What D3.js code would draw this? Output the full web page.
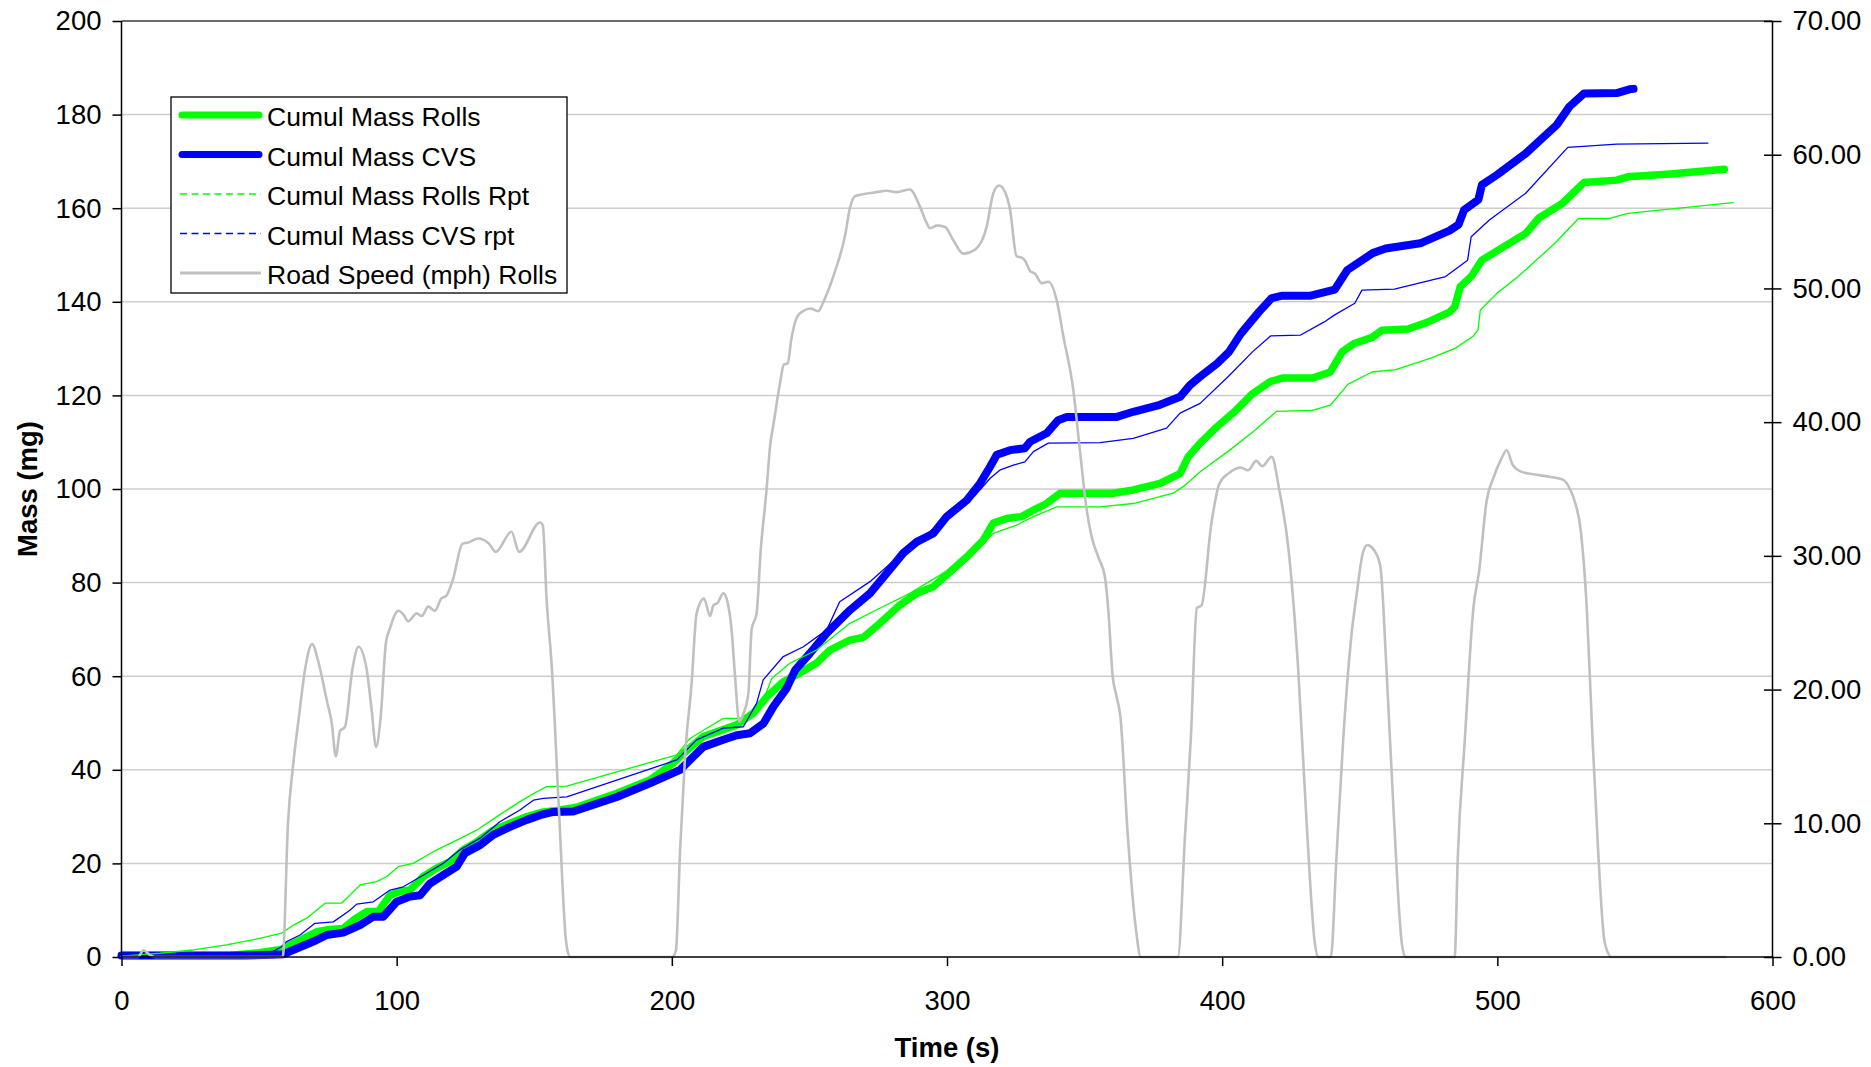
<!DOCTYPE html>
<html>
<head>
<meta charset="utf-8">
<script src="https://cdn.jsdelivr.net/npm/d3@7"></script>
<style>
  html, body { margin: 0; padding: 0; background: #fff; }
  svg { display: block; }
  text { font-family: "Liberation Sans", Arial, sans-serif; fill: #000; }
</style>
</head>
<body>
<svg id="chart" width="1871" height="1067"></svg>
<script>
// Cumulative mass (mg) against time (s), [time, mass]
const massRolls = [
  [0,0.3],[40,0.4],[50,0.9],[58,1.6],[60,2.2],[64.9,3.6],[70.9,5.4],[74.6,5.8],[80.6,6.1],[84.3,7.9],
  [89.1,9.7],[93.3,9.7],[97.6,13.2],[101.2,14],[104.8,14.3],[109.7,17.2],[114.5,19],[119.4,20.4],
  [124.2,22.9],[129.1,24.6],[135.1,27.1],[141.2,28.6],[147.3,30],[153.3,31],[158.2,31.3],[165.4,32],
  [180,35],[192,37.8],[200,41.2],[204.2,43.5],[211.4,47.1],[216.3,48.1],[223.6,49.6],[229.6,52.1],
  [234.5,55.6],[240.5,58.8],[245.4,60.3],[252.6,62.8],[257.5,65.6],[264.7,67.7],[269.6,68.3],
  [275.6,71.3],[282.9,75.2],[289,77.7],[295,79.1],[301.1,82.3],[307.2,85.5],[313.2,89.1],[316.8,92.7],
  [321.7,93.7],[327.1,94.1],[331.4,95.5],[336.2,96.9],[341.1,99.1],[360.4,99.1],[367.7,99.8],
  [377.4,101.2],[384.7,103.3],[387.7,106.9],[392,109.8],[398.1,113.3],[404.6,116.6],[411.1,120.4],
  [417.6,123],[421.9,123.7],[432.8,123.7],[439.3,125],[443.6,129.3],[448,131.1],[454.5,132.4],
  [458,133.9],[467.5,134.2],[474,135.5],[482.6,137.8],[484.5,138.9],[486.5,143.2],[490.5,145.4],
  [494.4,148.9],[502.4,151.8],[510.3,154.6],[515.1,157.9],[523.6,161],[531.5,165.5],[543.4,166],
  [547.4,166.7],[562.8,167.3],[582.5,168.3]
];

const massCVS = [
  [0,0.3],[45,0.3],[55,0.5],[58.8,0.6],[62.4,1.5],[69.7,3.3],[74.6,4.7],[80.6,5.2],[86.7,6.8],
  [91.5,8.6],[95.1,8.6],[100,11.8],[104.8,12.9],[108.5,13.2],[112.1,15.7],[116.9,17.5],[121.8,19.3],
  [124.8,22.2],[130.3,23.9],[135.1,26.1],[141.2,27.8],[147.3,29.3],[152.1,30.3],[156.9,31],[164.2,31.1],
  [180,34.2],[192,37.1],[203,40],[206.6,42.1],[211.4,44.9],[218.7,46.4],[223.6,47.4],[228.4,47.8],
  [233.3,49.9],[236.9,53.5],[241.7,57.4],[244.8,61.3],[250.2,64.9],[256.3,69.2],[264.7,74.1],
  [272,77.7],[278.1,82],[284.1,86.3],[289,88.7],[295,90.5],[299.9,94.1],[307.2,97.6],[312,101.2],
  [315.7,104.8],[318.1,107.3],[322.9,108.3],[328.3,108.7],[330.2,110.1],[336.2,111.9],[340.4,114.7],
  [343.5,115.4],[361.7,115.4],[367.7,116.5],[377.4,118],[384.7,119.7],[388.3,122.2],[392,124],
  [398.1,126.8],[402.5,129.3],[406.8,133.2],[413.3,137.8],[418,140.8],[421.9,141.3],[432.2,141.3],
  [440.9,142.6],[445.5,146.8],[454.7,150.4],[459.4,151.4],[472,152.5],[482.6,155.2],[485.9,156.5],
  [487.9,159.6],[493.1,161.8],[494.4,165],[499.8,167.1],[510.3,171.7],[521.6,177.8],[526.2,181.7],
  [531.5,184.5],[543.4,184.6],[548,185.4],[549.5,185.5]
];

const massRollsRpt = [
  [0,0.2],[14,0.8],[26.1,1.5],[38.2,2.6],[50.3,4],[58.2,5.1],[62.4,6.8],[67.3,8.3],[74,11.5],[80,11.5],
  [86.7,15.4],[92.7,16.1],[96.4,17.2],[100.6,19.3],[106,20],[113.3,22.5],[120.6,24.6],[129.1,27.1],
  [136.4,30],[144.8,33.2],[150.9,35.3],[154.5,36.4],[161.8,36.5],[201.8,43.2],[206.6,46.7],[213,49],
  [218.7,51],[224.8,51],[232.1,53.1],[234,56],[236.3,59.5],[243,62.8],[252.6,65.6],[264.7,71.3],
  [276.8,74.9],[286.5,77.7],[300,82.5],[313.2,88.4],[316.8,90.5],[325.3,92.3],[331.4,94.1],
  [339.9,96.2],[355.6,96.2],[367.7,96.9],[382.2,99.1],[385.8,100.5],[389.4,102.3],[392,103.7],
  [402.5,108.2],[411.1,112.2],[419.8,116.6],[432.8,116.8],[439.3,117.9],[445.8,122.4],[454.5,125],
  [463.1,125.5],[476.1,128],[484.8,130.1],[491.3,132.7],[493,134],[493.8,138.2],[499.8,141.8],
  [507.6,145.4],[520.9,152.5],[529.5,157.8],[540.8,157.8],[547.4,158.9],[585.7,161.2]
];

const massCVSRpt = [
  [0,0.2],[45,0.3],[55,1.2],[58.2,2.2],[60,3.3],[64.9,4.7],[70.3,7.2],[77,7.5],[83,10],[85.5,11.3],
  [91.5,11.8],[97.6,14.3],[102.4,15],[110.9,17.9],[116.9,20],[123,22.9],[130.3,25.4],[137.5,28.9],
  [144.8,31.4],[149.7,33.5],[153.3,33.9],[161.8,34.2],[201.8,42.1],[209,46.4],[218.7,48.9],[226,49.2],
  [230.8,54.2],[233.2,59.2],[240.5,64.2],[247.8,66.3],[256.3,69.9],[261,75.9],[272,80.2],[282.9,85.9],
  [290,89],[300,94],[310,98.5],[315.7,102.3],[319.4,104.1],[324.1,105.1],[328.3,105.8],[331.4,108],
  [336.8,109.8],[355.6,109.9],[367.7,110.8],[379.8,113],[384.7,116.2],[392,118.3],[402.5,124.2],
  [411,129.3],[417.6,132.7],[428.5,132.9],[437.1,135.7],[440.9,137.2],[448.2,139.7],[450.8,142.5],
  [462.6,142.7],[481.2,145.4],[489.2,148.9],[490.5,153.9],[497.1,157.5],[510.3,163.2],[525.6,173],
  [543.4,173.7],[576.5,173.9]
];

// Road speed (mph) against time (s), [time, speed]
const roadSpeed = [
  [0,0],[6,0],[8,0.5],[10,0.2],[12,0],[58.6,0],[60.5,10],[62.4,14.4],[64.5,18],[66.7,21.5],[69.3,23.4],
  [71.5,22.1],[74.6,19.2],[76.4,17.5],[77.9,15],[79.4,16.9],[81.2,17.2],[83.9,21.5],[86.1,23.2],
  [89.1,21.5],[90.9,18.5],[92.5,15.7],[94.2,18],[96.1,23.5],[97.6,24.6],[100.6,25.9],[102.5,25.6],
  [104.2,25.1],[107.3,25.7],[109.1,25.5],[111.5,26.2],[113.9,25.9],[116.2,26.8],[118,27],[120.4,28.2],
  [123.9,30.9],[126,31],[129.7,31.3],[133.6,30.9],[136,30.3],[141.7,31.8],[144.5,30.3],[152.1,32.5],
  [153.1,32.3],[154.5,26.7],[156.4,21.6],[159,10.9],[161.6,1.1],[163,0],[200.2,0],[201.5,0.5],
  [203,8],[204.8,15],[207.2,20.5],[209,25.7],[211.7,26.8],[213.9,25.5],[215.1,26.3],[216.7,26.5],
  [218.7,27.2],[219.9,26.8],[221.7,24.5],[222.9,21.2],[224.5,17.6],[226,18.2],[227.8,19.7],[229,24.5],
  [230.8,25.7],[232.3,30.4],[234.4,34.9],[235.8,38.4],[236.9,39.8],[239.3,42.9],[240.7,44.3],
  [242.1,44.4],[243.5,46.3],[245.6,47.9],[247.7,48.3],[250.4,48.5],[253.2,48.3],[255.3,49.1],
  [259.5,51.4],[262.9,53.9],[264.7,56],[266.6,56.9],[268.4,57],[274.4,57.2],[278.1,57.3],[281.7,57.2],
  [286.5,57.4],[290.2,56.1],[292.6,54.9],[293.8,54.5],[296.5,54.7],[299.3,54.6],[302.3,53.6],
  [305.9,52.6],[310.2,52.9],[314.4,54.6],[316.8,57.1],[318.9,57.7],[321.1,57.2],[322.9,55.9],
  [325.3,52.4],[327.1,52.3],[328.3,52.1],[330.2,51.3],[332,51.1],[334.4,50.4],[336.8,50.5],
  [339.9,49.1],[342.3,46.4],[345.9,42.4],[348.3,37.9],[350.8,33.4],[352.6,31.4],[355,29.9],
  [357.4,28.4],[358.6,26],[360.2,21],[361.6,19.5],[363,18],[365.7,9.1],[368.7,2],[370.4,0],
  [383.9,0],[386.5,9.1],[388.6,16.3],[390.8,26.1],[392.5,26.3],[396,32.3],[399,35.4],[402.5,36.2],
  [406.8,36.6],[409.4,36.4],[412.4,37.1],[414.6,36.7],[418,37.4],[420.7,35],[424.1,30.5],[427.6,21.6],
  [430.7,10],[433.7,1],[435,0],[439.5,0],[441.5,7.3],[444,16.3],[447.1,24.3],[448.8,27],[451,30.1],
  [452.7,30.8],[455.3,30.4],[457.5,29.2],[459.7,21.6],[462.3,10.9],[465.3,1],[466.6,0],[484.5,0],
  [485.6,7.3],[488.2,16.3],[491.3,26.1],[493.4,28.9],[496.1,34.1],[498.7,35.9],[501.3,37.2],
  [503.4,37.9],[505.6,36.8],[508.6,36.3],[513,36.1],[519.4,35.9],[523.8,35.7],[526.4,35],[528.1,34.1],
  [530.3,31.9],[532.5,26.1],[534.6,16.3],[536.8,7.3],[539,1.1],[541.5,0],[583,0]
];

const timeTicks = [0, 100, 200, 300, 400, 500, 600];
const massTicks = [0, 20, 40, 60, 80, 100, 120, 140, 160, 180, 200];
const speedTicks = [0, 10, 20, 30, 40, 50, 60, 70];

const seriesNames = [
  "Cumul Mass Rolls", "Cumul Mass CVS", "Cumul Mass Rolls Rpt", "Cumul Mass CVS rpt", "Road Speed (mph) Rolls"
];

// ---- layout ----
const svg = d3.select("#chart");
const plot = { left: 121.5, right: 1772.5, top: 21, bottom: 957 };
const FONT = 27.5;
const LEGEND_FONT = 26.5;

const x = d3.scaleLinear().domain([0, 600]).range([plot.left, plot.right]);
const yMass = d3.scaleLinear().domain([0, 200]).range([plot.bottom, plot.top]);
const ySpeed = d3.scaleLinear().domain([0, 70]).range([plot.bottom, plot.top]);

// horizontal gridlines at the mass ticks
svg.append("g")
  .selectAll("line")
  .data(massTicks.filter(d => d > 0 && d < 200))
  .join("line")
  .attr("x1", plot.left).attr("x2", plot.right)
  .attr("y1", d => yMass(d)).attr("y2", d => yMass(d))
  .attr("stroke", "#cdcdcd").attr("stroke-width", 1.5);

// top border
svg.append("line")
  .attr("x1", plot.left).attr("x2", plot.right)
  .attr("y1", plot.top).attr("y2", plot.top)
  .attr("stroke", "#3a3a3a").attr("stroke-width", 1.5);

// ---- series ----
const massLine = d3.line().x(d => x(d[0])).y(d => yMass(d[1]));
const speedLine = d3.line().x(d => x(d[0])).y(d => ySpeed(d[1])).curve(d3.curveMonotoneX);

const styles = [
  { data: massRolls,    color: "#00ff00", width: 7.5 },
  { data: massCVS,      color: "#0000ff", width: 8 },
  { data: massRollsRpt, color: "#00ff00", width: 1.3 },
  { data: massCVSRpt,   color: "#0000ff", width: 1.3 }
];

const gSeries = svg.append("g").attr("fill", "none")
  .attr("stroke-linejoin", "round").attr("stroke-linecap", "round");

styles.forEach(s => {
  gSeries.append("path")
    .datum(s.data)
    .attr("d", massLine)
    .attr("stroke", s.color)
    .attr("stroke-width", s.width);
});

gSeries.append("path")
  .datum(roadSpeed)
  .attr("d", speedLine)
  .attr("stroke", "#c0c0c0")
  .attr("stroke-width", 2.6);

// ---- axes ----
const axisLeft = d3.axisLeft(yMass).tickValues(massTicks).tickSize(9).tickPadding(11).tickFormat(d3.format("d"));
const gLeft = svg.append("g").attr("transform", `translate(${plot.left},0)`).call(axisLeft);

const axisRight = d3.axisRight(ySpeed).tickValues(speedTicks).tickSize(9).tickPadding(11).tickFormat(d3.format(".2f"));
const gRight = svg.append("g").attr("transform", `translate(${plot.right},0)`).call(axisRight);
// right ticks cross the axis line
gRight.selectAll(".tick line").attr("x1", -8.5);

const axisBottom = d3.axisBottom(x).tickValues(timeTicks).tickSize(9).tickPadding(24).tickFormat(d3.format("d"));
const gBottom = svg.append("g").attr("transform", `translate(0,${plot.bottom})`).call(axisBottom);

[gLeft, gRight, gBottom].forEach(g => {
  g.select(".domain").attr("stroke", "#000").attr("stroke-width", 1.5);
  g.selectAll(".tick line").attr("stroke", "#000").attr("stroke-width", 1.5);
  g.selectAll(".tick text")
    .attr("font-family", "Liberation Sans, Arial, sans-serif")
    .attr("font-size", FONT)
    .attr("fill", "#000");
});
gLeft.select(".domain").attr("d", `M0,${plot.bottom}V${plot.top}`);
gRight.select(".domain").attr("d", `M0,${plot.bottom}V${plot.top}`);
gBottom.select(".domain").attr("d", `M${plot.left},0H${plot.right}`);

// ---- axis titles ----
svg.append("text")
  .attr("x", (plot.left + plot.right) / 2)
  .attr("y", 1057)
  .attr("text-anchor", "middle")
  .attr("font-size", FONT)
  .attr("font-weight", "bold")
  .text("Time (s)");

svg.append("text")
  .attr("transform", `translate(36.5,${(plot.top + plot.bottom) / 2}) rotate(-90)`)
  .attr("text-anchor", "middle")
  .attr("font-size", FONT)
  .attr("font-weight", "bold")
  .text("Mass (mg)");

// ---- legend ----
const legend = svg.append("g");
legend.append("rect")
  .attr("x", 171).attr("y", 97)
  .attr("width", 396).attr("height", 196)
  .attr("fill", "#fff").attr("stroke", "#000").attr("stroke-width", 1.3);

const legendItems = [
  { name: seriesNames[0], color: "#00ff00", width: 7,   dash: null, cap: "round" },
  { name: seriesNames[1], color: "#0000ff", width: 7,   dash: null, cap: "round" },
  { name: seriesNames[2], color: "#00ff00", width: 1.3, dash: "7,4.5", cap: "butt" },
  { name: seriesNames[3], color: "#0000ff", width: 1.3, dash: "7,4.5", cap: "butt" },
  { name: seriesNames[4], color: "#c0c0c0", width: 2.8, dash: null, cap: "butt" }
];

legendItems.forEach((it, i) => {
  const base = 126 + i * 39.5;
  const thick = it.width > 5;
  legend.append("line")
    .attr("x1", thick ? 182 : 180).attr("x2", thick ? 259 : 261)
    .attr("y1", base - 11).attr("y2", base - 11)
    .attr("stroke", it.color)
    .attr("stroke-width", it.width)
    .attr("stroke-linecap", it.cap)
    .attr("stroke-dasharray", it.dash);
  legend.append("text")
    .attr("x", 267).attr("y", base)
    .attr("font-size", LEGEND_FONT)
    .text(it.name);
});
</script>
</body>
</html>
